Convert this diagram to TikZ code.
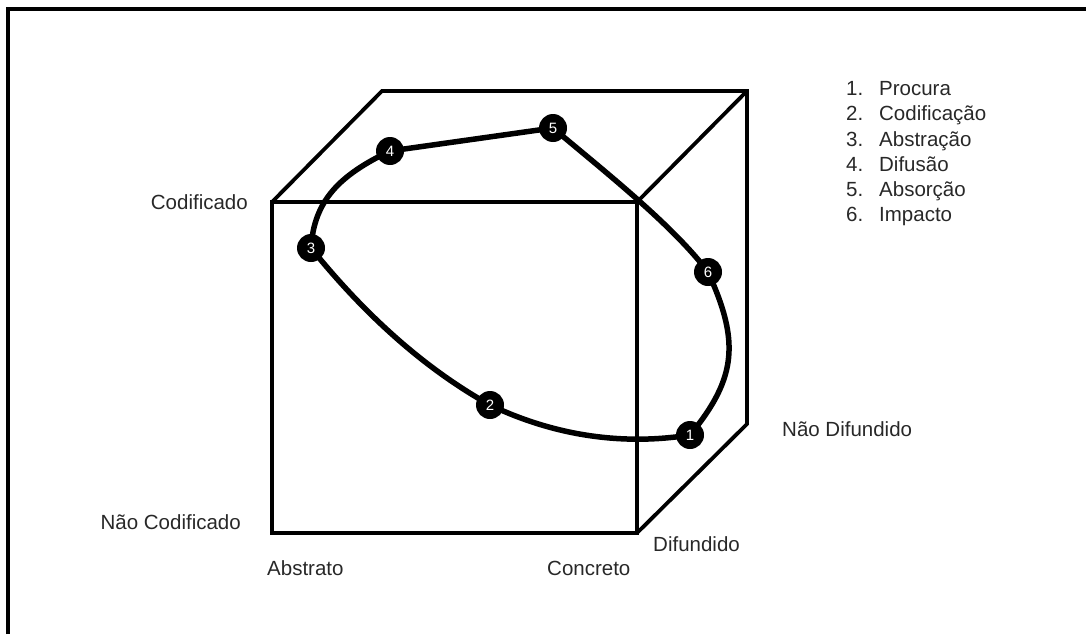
\documentclass[tikz,border=0pt]{standalone}
\usepackage{fontspec}
\setmainfont{Liberation Sans}
\definecolor{txt}{RGB}{40,40,40}
\begin{document}
\begin{tikzpicture}[x=1pt,y=-1pt,
  frame/.style={line width=3.5pt},
  cube/.style={line width=3.8pt, line join=miter},
  cyc/.style={line width=5.5pt},
  num/.style={circle, fill=black, minimum size=28pt, inner sep=0pt, text=white, font=\fontsize{15}{15}\selectfont},
  lab/.style={font=\fontsize{20.5}{24}\selectfont, text=txt, inner sep=0pt},
]
\useasboundingbox (0,0) rectangle (1086,634);
% outer frame (only top and left visible)
\coordinate (frBL) at (8,634);
\coordinate (frTR) at (1086,9);
\draw[frame] (frBL) |- (frTR);

% cube corners
\coordinate (fTL) at (272,202);
\coordinate (fTR) at (637,202);
\coordinate (fBR) at (637,533);
\coordinate (fBL) at (272,533);
\coordinate (bTL) at (382,91);
\coordinate (bTR) at (747,91);
\coordinate (bBR) at (747,424);

\draw[cube] (fTL) -- (fTR) -- (fBR) -- (fBL) -- cycle;
\draw[cube] (fTL) -- (bTL) -- (bTR) -- (bBR) -- (fBR);
\draw[cube] (fTR) -- (bTR);

% cycle points
\coordinate (p1) at (690,435);
\coordinate (p2) at (490,405);
\coordinate (p3) at (311,248);
\coordinate (p4) at (390,151);
\coordinate (p5) at (553,128);
\coordinate (p6) at (708,272);

\draw[cyc] (p4) -- (p5)
  .. controls (599,167) and (672,224) .. (p6)
  .. controls (739,340) and (738,377) .. (p1)
  .. controls (621,446) and (553,435) .. (p2)
  .. controls (420,366) and (361,310) .. (p3)
  .. controls (314,200) and (340,175) .. (p4);

\node[num] (c1) at (p1) {1};
\node[num] (c2) at (p2) {2};
\node[num] (c3) at (p3) {3};
\node[num] (c4) at (p4) {4};
\node[num] (c5) at (p5) {5};
\node[num] (c6) at (p6) {6};

% axis labels
\node[lab, anchor=base east] (lCod) at (248,209) {Codificado};
\node[lab, anchor=base east] (lNCod) at (241,529) {Não Codificado};
\node[lab, anchor=base west] (lAbs) at (267,575) {Abstrato};
\node[lab, anchor=base west] (lCon) at (547,575) {Concreto};
\node[lab, anchor=base west] (lDif) at (653,551) {Difundido};
\node[lab, anchor=base west] (lNDif) at (782,436) {Não Difundido};

% legend
\node[lab, anchor=base west] (l1) at (846,95) {\makebox[33pt][l]{1.}Procura};
\node[lab, anchor=base west] (l2) at (846,120) {\makebox[33pt][l]{2.}Codificação};
\node[lab, anchor=base west] (l3) at (846,146) {\makebox[33pt][l]{3.}Abstração};
\node[lab, anchor=base west] (l4) at (846,171) {\makebox[33pt][l]{4.}Difusão};
\node[lab, anchor=base west] (l5) at (846,196) {\makebox[33pt][l]{5.}Absorção};
\node[lab, anchor=base west] (l6) at (846,221) {\makebox[33pt][l]{6.}Impacto};
\end{tikzpicture}
\end{document}
